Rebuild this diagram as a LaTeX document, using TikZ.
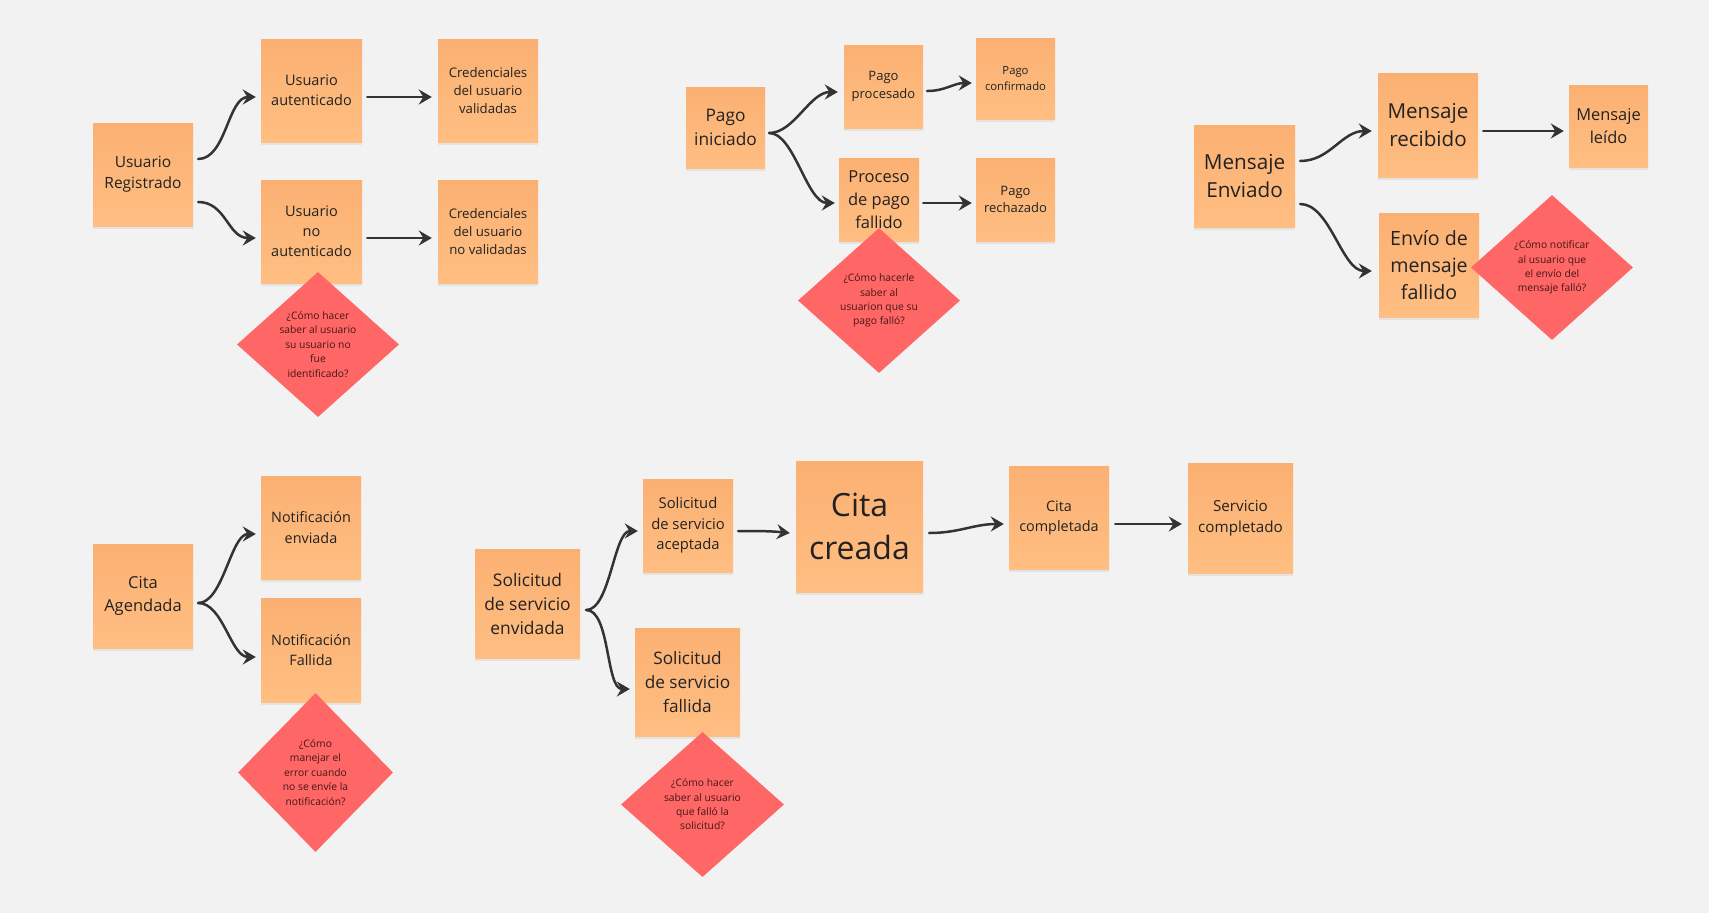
\documentclass[tikz,border=0pt]{standalone}
\usepackage{fontspec}
\setmainfont{Open Sans}
\usetikzlibrary{arrows.meta,shapes.geometric,shadows}
\newcommand{\fsz}[2]{\fontsize{#1pt}{#2pt}\selectfont}
\definecolor{bgc}{HTML}{F2F2F2}
\definecolor{notetop}{RGB}{251,176,114}
\definecolor{notebot}{RGB}{255,190,130}
\definecolor{qfill}{RGB}{255,102,102}
\definecolor{qtext}{RGB}{70,22,22}
\definecolor{ntext}{RGB}{34,34,34}
\definecolor{arrc}{RGB}{51,51,51}
\tikzset{
  note/.style={rectangle, inner sep=0pt, align=center, text=ntext,
    top color=notetop, bottom color=notebot, draw=none,
    drop shadow={shadow xshift=0pt, shadow yshift=-2.5pt, opacity=0.13}},
  quest/.style={diamond, inner sep=0pt, align=center, fill=qfill, text=qtext,
    font=\fsz{10.3}{14.4}, aspect=1},
  arr/.style={draw=arrc, line width=2.5pt, line cap=round,
    -{Stealth[length=13pt, width=15pt, inset=4.5pt]}}
}
\begin{document}
\begin{tikzpicture}[x=1pt, y=-1pt]
\fill[bgc] (0,0) rectangle (1709,913);
\useasboundingbox (0,0) rectangle (1709,913);

% ---------- Usuario ----------
\node[note, minimum width=100pt, minimum height=103pt, font=\fsz{15.5}{21}] (reg) at (143,174.5) {Usuario\\Registrado};
\node[note, minimum width=101pt, minimum height=103pt, font=\fsz{14.5}{19.8}] (aut) at (311.5,90.5) {Usuario\\autenticado};
\node[note, minimum width=100pt, minimum height=103pt, font=\fsz{13.2}{18}] (credV) at (488,90.5) {Credenciales\\del usuario\\validadas};
\node[note, minimum width=101pt, minimum height=103pt, font=\fsz{14.5}{19.8}] (noaut) at (311.5,231.5) {Usuario\\no\\autenticado};
\node[note, minimum width=100pt, minimum height=103pt, font=\fsz{13.2}{18}] (credN) at (488,231.5) {Credenciales\\del usuario\\no validadas};
\node[quest, minimum width=162pt, minimum height=145pt] (q1) at (318,344.5) {¿Cómo hacer\\saber al usuario\\su usuario no\\fue\\identificado?};

\draw[arr] ([xshift=5pt,yshift=15.5pt]reg.east) .. controls +(28,0) and +(-28,0) .. ([xshift=-5pt,yshift=-6.5pt]aut.west);
\draw[arr] ([xshift=5pt,yshift=-27.5pt]reg.east) .. controls +(28,0) and +(-28,0) .. ([xshift=-5pt,yshift=-6.5pt]noaut.west);
\draw[arr] ([xshift=5pt,yshift=-6.5pt]aut.east) -- ([xshift=-6pt,yshift=-6.5pt]credV.west);
\draw[arr] ([xshift=5pt,yshift=-6.5pt]noaut.east) -- ([xshift=-6pt,yshift=-6.5pt]credN.west);

% ---------- Pago ----------
\node[note, minimum width=79pt, minimum height=81pt, font=\fsz{17.3}{23.5}] (ini) at (725.5,127.5) {Pago\\iniciado};
\node[note, minimum width=79pt, minimum height=83pt, font=\fsz{13}{17.7}] (proc) at (883.5,86.5) {Pago\\procesado};
\node[note, minimum width=79pt, minimum height=81pt, font=\fsz{11.3}{15.6}] (conf) at (1015.5,78.5) {Pago\\confirmado};
\node[note, minimum width=80pt, minimum height=83pt, font=\fsz{16.5}{22.7}] (fall) at (879,199.5) {Proceso\\de pago\\fallido};
\node[note, minimum width=79pt, minimum height=83pt, font=\fsz{13}{17.7}] (rech) at (1015.5,199.5) {Pago\\rechazado};
\node[quest, minimum width=162pt, minimum height=145pt] (q2) at (879,300.5) {¿Cómo hacerle\\saber al\\usuarion que su\\pago falló?};

\draw[arr] ([xshift=4pt,yshift=-5.5pt]ini.east) .. controls +(25,0) and +(-28,0) .. ([xshift=-6pt,yshift=-5.5pt]proc.west);
\draw[arr] ([xshift=4pt,yshift=-5.5pt]ini.east) .. controls +(25,0) and +(-28,0) .. ([xshift=-4pt,yshift=-3.5pt]fall.west);
\draw[arr] ([xshift=4pt,yshift=-4.5pt]proc.east) .. controls +(18,0) and +(-18,0) .. ([xshift=-4pt,yshift=-4.5pt]conf.west);
\draw[arr] ([xshift=4pt,yshift=-3.5pt]fall.east) -- ([xshift=-4pt,yshift=-3.5pt]rech.west);

% ---------- Mensaje ----------
\node[note, minimum width=101pt, minimum height=102pt, font=\fsz{20.7}{28.5}] (env) at (1244.5,176) {Mensaje\\Enviado};
\node[note, minimum width=100pt, minimum height=104pt, font=\fsz{20.6}{28.5}] (rec) at (1428,125) {Mensaje\\recibido};
\node[note, minimum width=79pt, minimum height=82pt, font=\fsz{16.4}{22.7}] (leido) at (1608.5,126) {Mensaje\\leído};
\node[note, minimum width=100pt, minimum height=104pt, font=\fsz{19.6}{27}] (envf) at (1429,265) {Envío de\\mensaje\\fallido};
\node[quest, minimum width=162pt, minimum height=145pt] (q3) at (1552,267.5) {¿Cómo notificar\\al usuario que\\el envío del\\mensaje falló?};

\draw[arr] ([xshift=5pt,yshift=15pt]env.east) .. controls +(30,0) and +(-30,0) .. ([xshift=-6pt,yshift=-6pt]rec.west);
\draw[arr] ([xshift=5pt,yshift=-28pt]env.east) .. controls +(30,0) and +(-30,0) .. ([xshift=-7pt,yshift=-6pt]envf.west);
\draw[arr] ([xshift=5pt,yshift=-6pt]rec.east) -- ([xshift=-5pt,yshift=-5pt]leido.west);

% ---------- Cita agendada ----------
\node[note, minimum width=100pt, minimum height=104pt, font=\fsz{16.5}{22.2}] (ag) at (143,596) {Cita\\Agendada};
\node[note, minimum width=100pt, minimum height=103pt, font=\fsz{14.4}{20.3}] (notE) at (311,527.5) {Notificación\\enviada};
\node[note, minimum width=100pt, minimum height=104pt, font=\fsz{14.4}{20.3}] (notF) at (311,650) {Notificación\\Fallida};
\node[quest, minimum width=155pt, minimum height=159pt] (q4) at (315.5,772.5) {¿Cómo\\manejar el\\error cuando\\no se envíe la\\notificación?};

\draw[arr] ([xshift=5pt,yshift=-7pt]ag.east) .. controls +(25,0) and +(-25,0) .. ([xshift=-5pt,yshift=-6.5pt]notE.west);
\draw[arr] ([xshift=5pt,yshift=-7pt]ag.east) .. controls +(25,0) and +(-25,0) .. ([xshift=-5pt,yshift=-7pt]notF.west);

% ---------- Solicitud de servicio ----------
\node[note, minimum width=105pt, minimum height=109pt, font=\fsz{17.4}{24}] (sol) at (527.5,603.5) {Solicitud\\de servicio\\envidada};
\node[note, minimum width=90pt, minimum height=93pt, font=\fsz{14.8}{20.5}] (acep) at (688,525.5) {Solicitud\\de servicio\\aceptada};
\node[note, minimum width=127pt, minimum height=131pt, font=\fsz{32}{43.5}] (cita) at (859.5,526.5) {Cita\\creada};
\node[note, minimum width=100pt, minimum height=103pt, font=\fsz{14.4}{20}] (comp) at (1059,517.5) {Cita\\completada};
\node[note, minimum width=105pt, minimum height=110pt, font=\fsz{15.2}{21}] (serv) at (1240.5,518) {Servicio\\completado};
\node[note, minimum width=105pt, minimum height=108pt, font=\fsz{17.2}{24}] (solF) at (687.5,682) {Solicitud\\de servicio\\fallida};
\node[quest, minimum width=163pt, minimum height=145pt] (q5) at (702.5,804.5) {¿Cómo hacer\\saber al usuario\\que falló la\\solicitud?};

\draw[arr] ([xshift=6pt,yshift=-6.5pt]sol.east) .. controls +(24,0) and +(-24,0) .. ([xshift=-5pt,yshift=-5.5pt]acep.west);
\draw[arr] ([xshift=6pt,yshift=-6.5pt]sol.east) .. controls +(24,0) and +(-24,0) .. ([xshift=-5pt,yshift=-7pt]solF.west);
\draw[arr] ([xshift=5pt,yshift=-5.5pt]acep.east) .. controls +(20,0) and +(-20,-2) .. ([xshift=-6pt,yshift=-6.5pt]cita.west);
\draw[arr] ([xshift=6pt,yshift=-6.5pt]cita.east) .. controls +(30,0) and +(-30,0) .. ([xshift=-5pt,yshift=-6.5pt]comp.west);
\draw[arr] ([xshift=6pt,yshift=-6.5pt]comp.east) -- ([xshift=-6pt,yshift=-6pt]serv.west);
\end{tikzpicture}
\end{document}
